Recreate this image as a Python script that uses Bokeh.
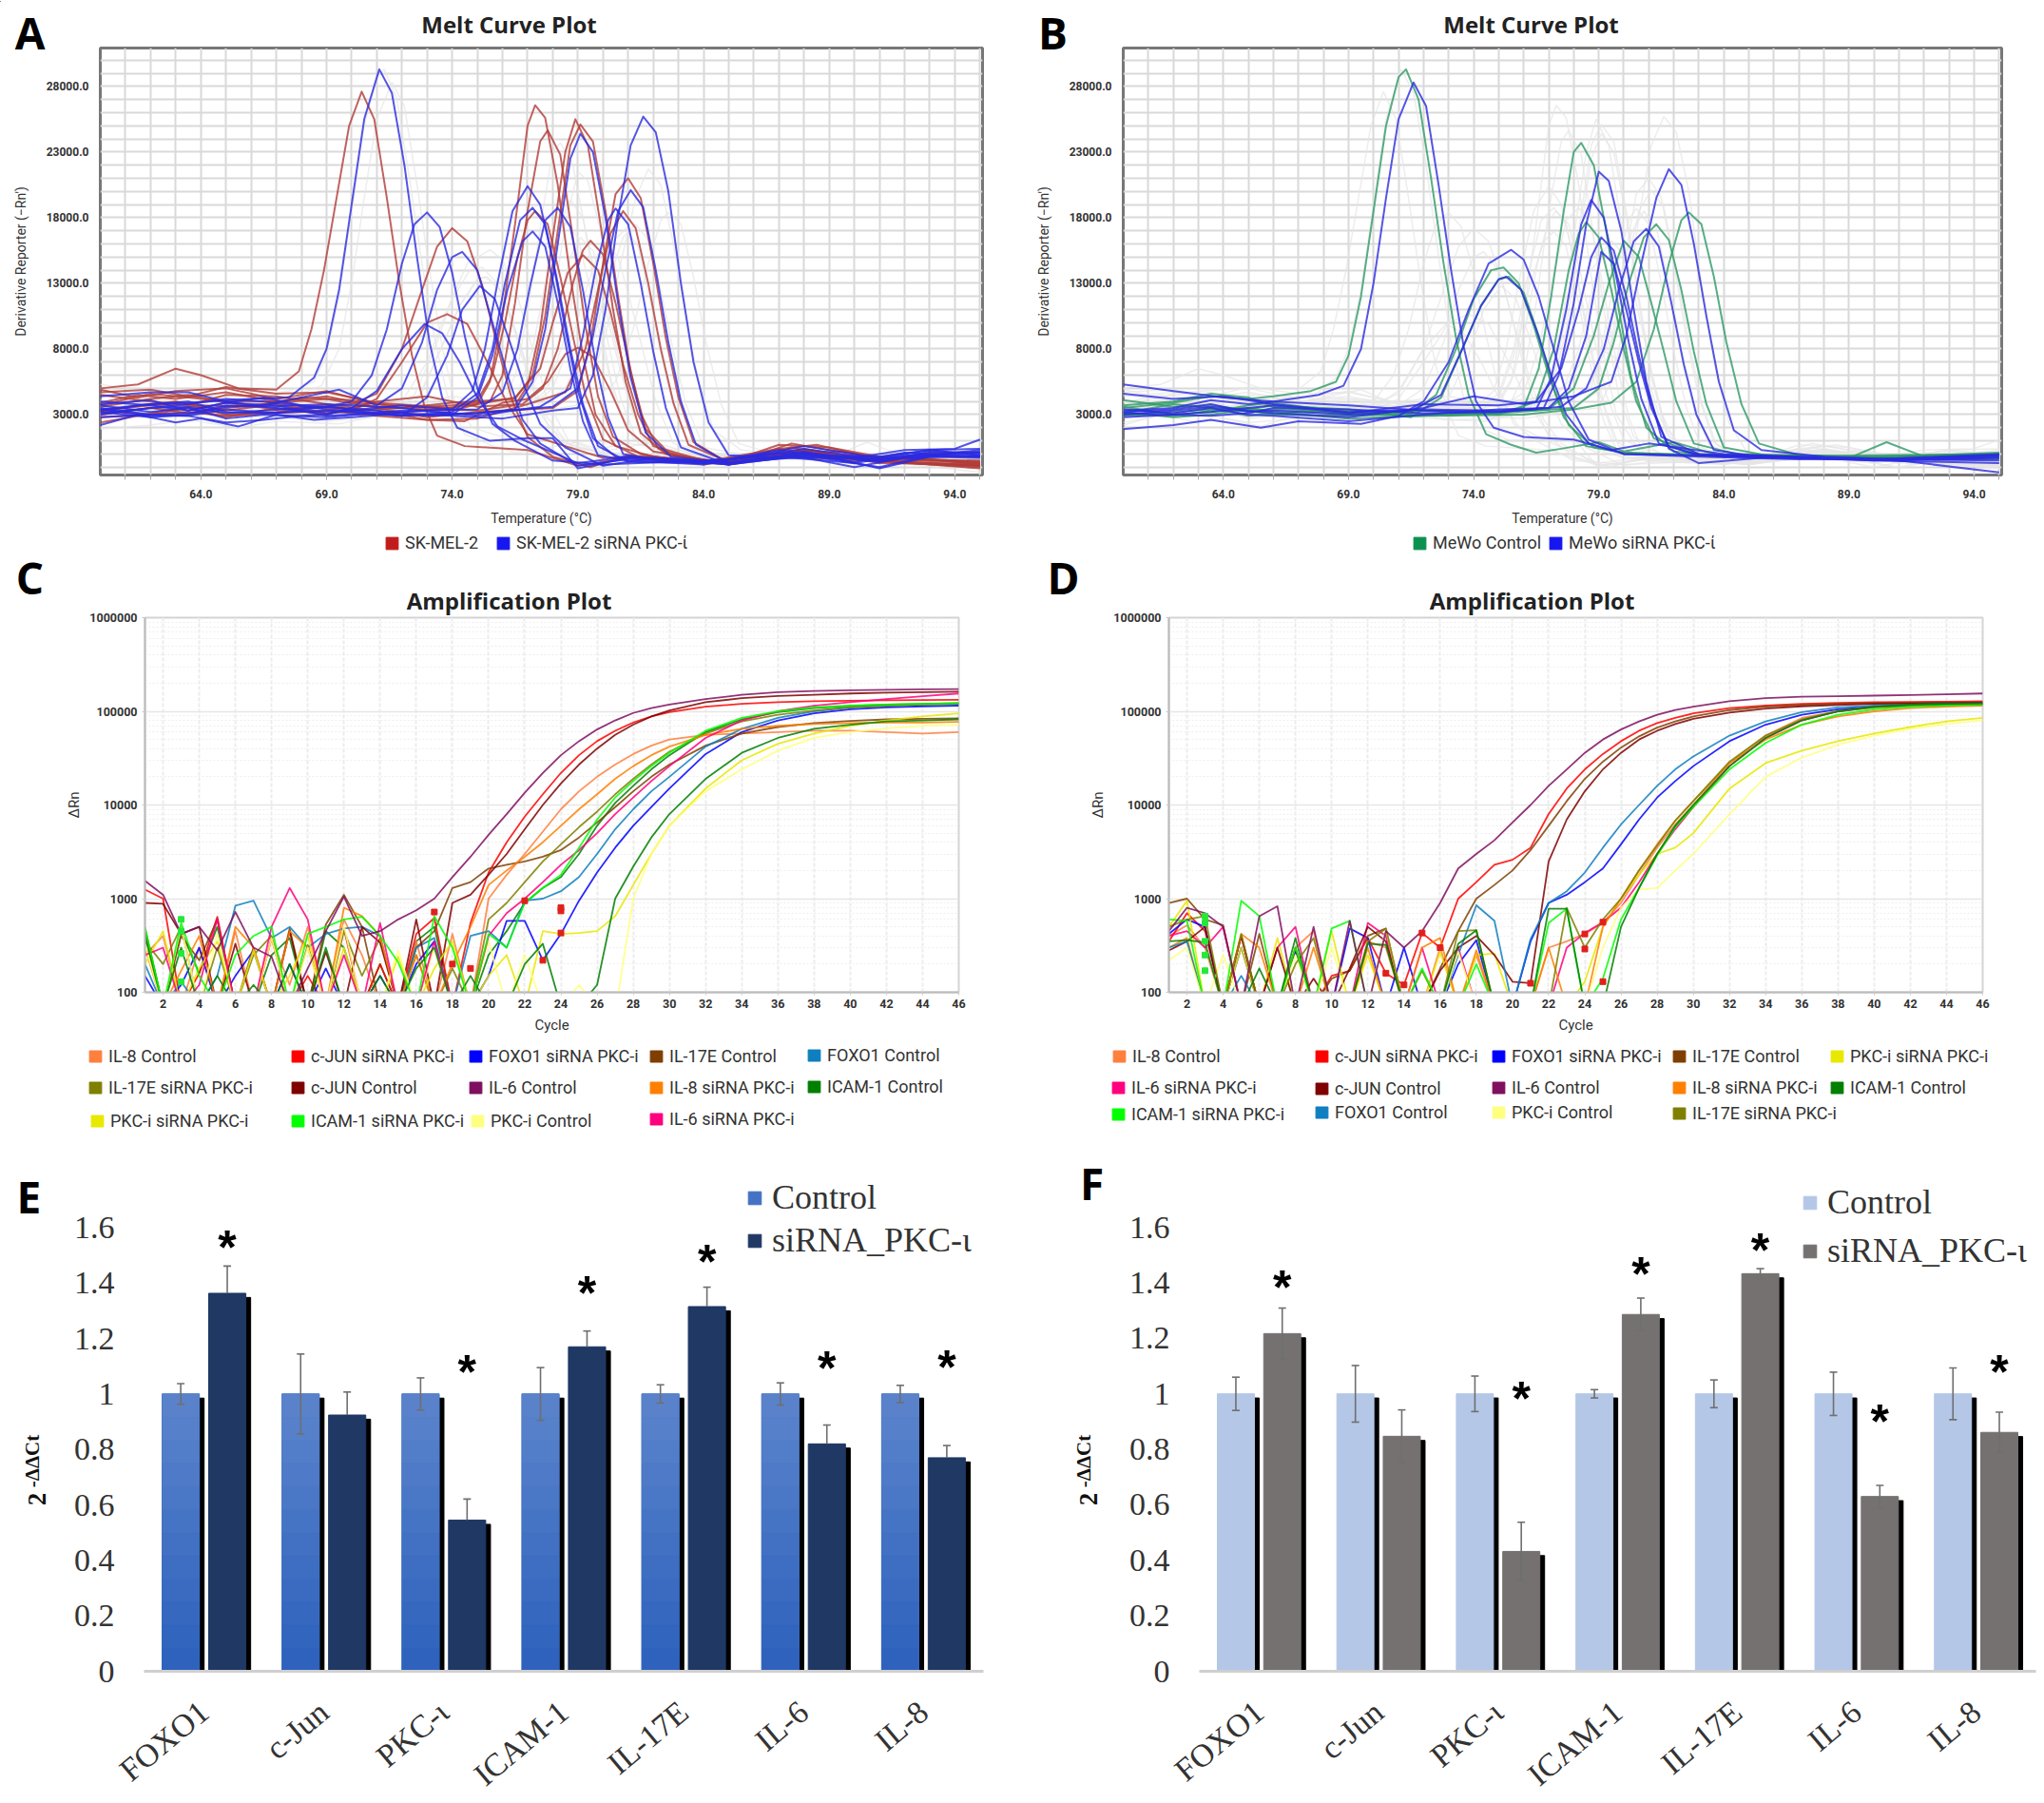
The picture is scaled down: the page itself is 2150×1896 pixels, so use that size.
from math import pi
from bokeh.embed import file_html
from bokeh.resources import INLINE
from bokeh.plotting import figure
from bokeh.layouts import column, row
from bokeh.core.properties import value
from bokeh.models import (ColumnDataSource, FixedTicker, Label, Legend, LegendItem, NumeralTickFormatter,
                          Range1d, TeeHead, Whisker)

# ---------- Melt curves, panel A: (temperature, derivative reporter) ----------
a_red_1 = [(60,5000),(61.5,5300),(63,6500),(64,6000),(65.5,5000),(67,4900),(67.9,6300),(68.4,9500),(68.9,14000),(69.4,19500),(69.9,25000),(70.4,27600),(70.9,25500),(71.4,19500),(71.9,13000),(72.4,7500),(72.9,3600),(73.4,1400),(74.5,600),(77,300),(79,-900),(81,-300),(84,-700),(86,-500),(87.5,500),(90,-400),(92,-600),(95,-900)]
a_red_2 = [(60,3900),(61.5,4500),(63,4200),(65,4700),(67,4000),(69,4400),(71,3600),(74,3300),(75,3800),(75.5,5500),(76,10500),(76.5,17500),(77,25000),(77.3,26560),(77.7,25600),(78.2,20500),(78.7,13500),(79.2,7500),(79.7,3000),(80.5,600),(82,-200),(85,-800),(87.5,800),(89,300),(91,-300),(95,-600)]
a_red_3 = [(60,3200),(61.5,3700),(63,4000),(65,3300),(67,3800),(69,3100),(71,3400),(74,3700),(75.5,4000),(76,6000),(76.5,11500),(77,18500),(77.5,23800),(77.8,24650),(78.3,22800),(78.8,16500),(79.3,9800),(79.8,4400),(80.4,1300),(81.5,0),(84,-800),(87,0),(89.5,200),(92,-700),(95,-900)]
a_red_4 = [(60,4900),(61.5,4300),(63,4800),(65,5000),(67,4200),(69,4800),(71,3800),(75,3300),(76.5,3700),(77,5200),(77.5,9500),(78,16500),(78.5,23000),(78.9,25500),(79.4,23500),(79.9,17500),(80.4,11000),(80.9,5500),(81.5,1600),(82.5,0),(85,-700),(87,400),(88.5,700),(91,-400),(95,-500)]
a_red_5 = [(60,2400),(61.5,2900),(62.5,3300),(64,3700),(66,3600),(68,4300),(70,4100),(72,3500),(74,3900),(76.5,4200),(77.2,6000),(77.7,10500),(78.2,17000),(78.7,23500),(79.1,25100),(79.6,23800),(80.1,18500),(80.6,12000),(81.1,6200),(81.7,1900),(82.7,-100),(85,-800),(88,400),(91,-500),(93,-800),(95,-1000)]
a_red_6 = [(60,3000),(62,3500),(63.5,3100),(65,3500),(67,3900),(69,4200),(71,3500),(73,2800),(75,3200),(78,3500),(79,4800),(79.5,8500),(80,14500),(80.5,19800),(81,21000),(81.5,19500),(82,14500),(82.5,8800),(83,4300),(83.6,900),(85,-700),(87,-100),(88,300),(91,-500),(95,-900)]
a_red_7 = [(60,4500),(62,4000),(63.5,3700),(65,4500),(67,4400),(69,3800),(71,3300),(73,2600),(75,2700),(77,3800),(78.5,4700),(79.3,8000),(79.8,12500),(80.3,16800),(80.8,18500),(81.3,17200),(81.8,13000),(82.3,8000),(82.8,3900),(83.4,700),(85,-600),(87,700),(89,500),(91,-200),(95,-700)]
a_red_8 = [(60,3700),(62,4600),(63.5,4300),(65,4000),(67,4000),(68.5,3500),(70,3800),(71,4600),(72,8000),(72.8,12500),(73.4,15800),(74,17200),(74.6,16200),(75.2,12800),(75.8,8200),(76.4,4000),(77,1300),(78,-200),(79.5,-1000),(81,-100),(84,-600),(87,-100),(90,-500),(92,-200),(95,-800)]
a_red_9 = [(60,3300),(62,3000),(63.5,3500),(65,2800),(67,3500),(69,3000),(71,4000),(73,4400),(75,3600),(76.8,3800),(77.6,5000),(78.2,8000),(78.8,13000),(79.2,15500),(79.5,16250),(80,15200),(80.5,11500),(81,7200),(81.5,3100),(82.2,400),(84,-700),(87,100),(89,-100),(91,-400),(95,-700)]
a_red_10 = [(60,3300),(62,3700),(63.5,3800),(65,3000),(67,3200),(68.5,3600),(70,3300),(71,4200),(72,7000),(73,10000),(73.8,10650),(74.6,9900),(75.4,7000),(76.2,3800),(77,1500),(78.5,600),(80,-300),(82,-200),(85,-700),(88,300),(91,-700),(95,-800)]
a_red_11 = [(60,2800),(62,3000),(63.5,3200),(65,2900),(67,3100),(69,3300),(71,2900),(73,2600),(74.5,2500),(76,3900),(77,4200),(77.8,5500),(78.5,7600),(79,8100),(79.6,7400),(80.3,4800),(81,1800),(82,200),(85,-700),(88,100),(91,-500),(95,-1100)]
a_red_12 = [(60,4700),(62,4900),(63.5,4400),(65,5100),(67,4600),(69,4700),(71,3900),(74,3500),(75,4100),(75.6,6000),(76.1,10000),(76.6,15000),(77,17800),(77.3,18500),(77.8,17500),(78.3,13500),(78.8,9000),(79.3,4500),(80,1100),(81.5,-300),(84,-600),(87,400),(89,0),(91,-600),(95,-800)]
a_red_13 = [(60,3600),(62,4200),(63.5,4500),(65,3900),(67,3400),(69,3700),(71,3000),(73,3300),(75,3800),(76.5,4300),(77.5,6500),(78,10000),(78.6,13800),(79.2,15150),(79.8,14000),(80.3,10800),(80.8,6800),(81.4,3000),(82,600),(84,-500),(87,0),(91,-200),(95,-600)]
a_blue_1 = [(60,3400),(62,3800),(63.5,3900),(66,4200),(67.5,4300),(68.5,5800),(69,8000),(69.5,12500),(70,19000),(70.5,25500),(71.1,29300),(71.6,27500),(72.1,22000),(72.6,15000),(73.1,8500),(73.6,4300),(74.2,2000),(75.5,1000),(77,1200),(78,1200),(79,-1100),(81,-300),(84,-700),(87,100),(90,-1000),(92,-300),(95,300)]
a_blue_2 = [(60,3000),(62,3500),(63.5,3600),(65,3100),(66.5,3300),(69,3600),(70,4000),(70.8,6000),(71.4,9500),(72,14500),(72.5,17500),(73,18400),(73.5,17300),(74,13800),(74.5,9000),(75,5000),(75.6,2300),(76.5,1000),(78,-500),(80,-800),(84,-500),(87,-200),(90,-700),(92,-100),(95,-200)]
a_blue_3 = [(60,3200),(62,2800),(63.5,3000),(65,3600),(66.5,3700),(68,4300),(69.5,4900),(71,3700),(72,5000),(72.8,8500),(73.4,12500),(74,15000),(74.4,15400),(75,14000),(75.6,10000),(76.2,6000),(76.8,2600),(77.5,800),(79,-900),(81,-400),(84,-700),(87,300),(90,-600),(92,100),(95,-200)]
a_blue_4 = [(60,4000),(62,3700),(63.5,3300),(65,3900),(66.5,4300),(68,3700),(69.5,3500),(72,2900),(73,4300),(73.8,7500),(74.4,11000),(75.1,12800),(75.7,11800),(76.3,8500),(76.9,5000),(77.5,2300),(78.5,500),(80,-900),(82,-300),(85,-600),(88,0),(91,-600),(93,200),(95,100)]
a_blue_5 = [(60,3500),(62,3000),(63.5,2900),(65,2400),(66.5,2600),(68,2900),(69,3000),(70,3500),(71,4800),(72,8000),(72.9,9900),(73.6,9200),(74.3,7000),(75,4300),(75.8,2100),(76.8,1100),(79,-700),(81,-200),(84,-600),(88,200),(91,-1100),(93,-200),(95,-300)]
a_blue_6 = [(60,4400),(62,4700),(63.5,4700),(65,4000),(66.5,3600),(69,3100),(72,3700),(74,3400),(74.8,4800),(75.3,8000),(75.8,13000),(76.4,18500),(77,20400),(77.5,19000),(78,14800),(78.5,9500),(79,4800),(79.6,1200),(80.5,-200),(82,-300),(85,-800),(88,-100),(91,-200),(93,300),(95,400)]
a_blue_7 = [(60,3100),(62,3500),(63.5,3800),(65,4200),(66.5,4000),(69,3400),(72,2900),(74,3200),(75,4600),(75.6,8000),(76.1,13000),(76.7,17800),(77.2,18750),(77.7,17500),(78.2,13000),(78.7,8000),(79.2,3800),(79.8,600),(81,-600),(84,-700),(88,400),(91,-400),(93,0),(95,100)]
a_blue_8 = [(60,3700),(62,3200),(63.5,3500),(65,2700),(66.5,3000),(69,2800),(72,3300),(75,3400),(76,4700),(76.6,8000),(77.1,12800),(77.7,17800),(78.2,18750),(78.7,17300),(79.2,12500),(79.7,7000),(80.2,2800),(80.8,0),(82,-400),(85,-800),(88,-100),(91,-1000),(93,-100),(95,-200)]
a_blue_9 = [(60,2800),(62,3000),(63.5,3100),(65,3700),(66.5,3600),(69,3800),(72,3500),(74,3000),(75,4300),(75.6,7500),(76.2,12500),(76.8,16200),(77.2,16950),(77.7,15800),(78.2,11500),(78.7,6500),(79.2,2500),(79.8,-100),(81,-500),(84,-800),(88,600),(91,-300),(93,300),(95,-100)]
a_blue_10 = [(60,3300),(62,3800),(63.5,4000),(65,3200),(66.5,3100),(69,3300),(72,2900),(75,3100),(76.5,3400),(77.2,5500),(77.7,9500),(78.2,16000),(78.7,22500),(79.1,24400),(79.6,23000),(80.1,18000),(80.6,11500),(81.1,5800),(81.7,1600),(82.7,-200),(85,-700),(88,100),(91,-500),(93,100),(95,0)]
a_blue_11 = [(60,2200),(61.5,3000),(63,2400),(64,2700),(65.5,2100),(67,3000),(68.5,2600),(70,2800),(72,3100),(74,2900),(76,2700),(78,3300),(79,3500),(79.6,6000),(80.1,11000),(80.6,18000),(81.1,23500),(81.6,25700),(82.1,24500),(82.6,20000),(83.1,13000),(83.6,7000),(84.2,2400),(85,-100),(87,-300),(90,-300),(92,300),(94,400),(95,1100)]
a_blue_12 = [(60,3400),(62,2900),(63.5,2900),(65,3400),(67,3100),(69,3600),(71,3300),(73,2900),(75,3100),(78,3600),(79,5000),(79.6,9000),(80.1,14000),(80.6,18500),(81.1,20100),(81.6,18800),(82.1,14000),(82.6,8500),(83.1,4000),(83.7,700),(85,-700),(88,-200),(91,-400),(95,-100)]
a_blue_13 = [(60,3800),(62,4100),(63.5,3300),(65,3900),(67,3700),(69,2900),(71,3100),(73,3300),(75,2900),(77.5,3600),(78.7,5000),(79.2,9000),(79.7,14000),(80.2,17800),(80.5,18700),(81,17500),(81.5,13000),(82,7800),(82.5,3500),(83.1,500),(85,-800),(88,100),(91,-500),(95,200)]

# ---------- Melt curves, panel B ----------
b_green_1 = [(60,3500),(62,3900),(63.5,4400),(65,4200),(66,4400),(67.5,4800),(68.5,5500),(69,7500),(69.5,12000),(70,18500),(70.5,25000),(71,28700),(71.3,29300),(71.8,27000),(72.3,21000),(72.8,14500),(73.3,8800),(73.8,4500),(74.5,1500),(75.5,700),(76.5,100),(77.5,400),(79,900),(80,200),(82,900),(84,-200),(87,-100),(89,-300),(90.5,900),(92,-200),(95,-200)]
b_green_2 = [(60,3100),(62,3800),(63.5,3500),(65,2900),(66,3100),(69,3300),(72,3000),(74.5,3100),(76,3500),(76.6,6500),(77.1,12000),(77.6,18500),(78,23000),(78.3,23700),(78.8,22000),(79.3,17000),(79.8,11000),(80.3,5800),(80.9,2000),(82,200),(84,-200),(87,-100),(90,-300),(95,-100)]
b_green_3 = [(60,3600),(62,3000),(63.5,3200),(65,3700),(66,3900),(69,3100),(72,3300),(75,3000),(76.5,4000),(77.2,8000),(77.8,14000),(78.2,16800),(78.5,17650),(79,16500),(79.5,12500),(80,8000),(80.5,4000),(81.2,1200),(83,0),(86,-200),(90,-100),(95,0)]
b_green_4 = [(60,3000),(62,2900),(63.5,3300),(65,3300),(66,3000),(69,2900),(71.5,3100),(72.5,4500),(73.3,8000),(74,11800),(74.7,14000),(75.2,14200),(75.8,13000),(76.4,9800),(77,6000),(77.6,2800),(78.5,600),(80,100),(83,-100),(86,-300),(90,-200),(95,0)]
b_green_5 = [(60,3700),(62,4000),(63.5,4600),(65,4300),(66,3600),(69,3000),(72,2900),(75,3100),(78,3500),(79,5000),(79.6,8500),(80.2,13000),(80.8,16500),(81.3,17500),(81.8,16300),(82.3,12500),(82.8,7800),(83.3,3800),(84,500),(86,-200),(90,-300),(95,-100)]
b_green_6 = [(60,2900),(62,3200),(63.5,3400),(65,3500),(66,3200),(69,2700),(72,2900),(76,3000),(78,3400),(79.5,3900),(80.5,5500),(81.2,9500),(81.8,14500),(82.3,17800),(82.6,18400),(83.1,17500),(83.6,13500),(84.1,8500),(84.7,3800),(85.4,800),(87,-100),(90,-200),(95,0)]
b_green_7 = [(60,4100),(62,3600),(63.5,3700),(65,3300),(66,3400),(69,3100),(72,3300),(75,3200),(77,3400),(78,5000),(78.8,9000),(79.4,13000),(80,16250),(80.6,15000),(81.1,11500),(81.6,7800),(82.1,4000),(82.8,800),(84.5,0),(87,-100),(91,-400),(95,-400)]
b_green_8 = [(60,3200),(62,2800),(63.5,3000),(65,3400),(66,3700),(69,3400),(71.5,2800),(72.7,4300),(73.5,7800),(74.3,11300),(75,13300),(75.4,13500),(76,12300),(76.6,9000),(77.2,5000),(77.8,2200),(78.8,500),(80,100),(83,-100),(87,-300),(91,-200),(95,100)]
b_blue_1 = [(60,3300),(62,3500),(63.5,4100),(65,3800),(66,4000),(67.8,4500),(68.8,5200),(69.5,8000),(70,13000),(70.5,19500),(71,25500),(71.6,28300),(72.1,26500),(72.6,20500),(73.1,14000),(73.6,8200),(74.1,4000),(74.8,2000),(76,1300),(78,1100),(79.5,300),(81,800),(84,0),(87,-200),(91,-400),(95,-500)]
b_blue_2 = [(60,5300),(62,4800),(64,4300),(66,4000),(69,3700),(72,3300),(75,3200),(76.8,3500),(77.4,6000),(78,11500),(78.5,17500),(79,21500),(79.4,20800),(79.9,17000),(80.4,11000),(80.9,5500),(81.5,1300),(83,0),(86,-200),(90,-400),(95,-100)]
b_blue_3 = [(60,4600),(62,4200),(64,4400),(66,3800),(69,3200),(72,3400),(75,3300),(76.5,3400),(77.1,5800),(77.7,11000),(78.3,17500),(78.7,19350),(79.2,18000),(79.7,13500),(80.2,8500),(80.7,4200),(81.4,800),(83,-100),(86,-200),(90,-500),(95,-700)]
b_blue_4 = [(60,1900),(62,2200),(63.5,2600),(65.5,2000),(67,2500),(69.5,2300),(71,2900),(72,4000),(73,7000),(73.8,11000),(74.6,14500),(75.5,15550),(76,14800),(76.6,12000),(77.2,8000),(77.8,4000),(78.6,1100),(80,0),(83,-100),(87,-300),(91,-500),(95,-1400)]
b_blue_5 = [(60,3200),(62,3400),(63.5,3800),(65,3200),(66,3300),(69,3000),(71.5,3300),(72.7,4500),(73.5,7800),(74.3,11300),(75,13300),(75.3,13500),(75.9,12500),(76.5,9500),(77.1,6000),(77.7,3000),(78.6,800),(80,0),(83,-200),(87,-400),(91,-400),(95,-300)]
b_blue_6 = [(60,2800),(62,3000),(63.5,3200),(65,3500),(66,3700),(69,3100),(72,3800),(75,3700),(76.5,4000),(77.5,6500),(78.2,11000),(78.7,15000),(79.1,16500),(79.6,15500),(80.1,12000),(80.6,7500),(81.1,3800),(81.8,400),(83,-700),(86,-200),(90,-500),(95,-100)]
b_blue_7 = [(60,3000),(62,3300),(63.5,3600),(65,3300),(66,3100),(69,2800),(72,3500),(74,4400),(76,3800),(78,4400),(79.5,5500),(80.1,9000),(80.7,14500),(81.3,19500),(81.8,21700),(82.3,20500),(82.8,16000),(83.3,10500),(83.8,5500),(84.4,1800),(85.5,300),(88,-200),(91,-400),(95,-200)]
b_blue_8 = [(60,3100),(62,3000),(63.5,2900),(65,3100),(66,3500),(69,3400),(72,3100),(75,3200),(77.5,3600),(78.5,5000),(79.2,8000),(79.8,12500),(80.4,16200),(80.9,17150),(81.4,15800),(81.9,11500),(82.4,6800),(82.9,3000),(83.6,300),(85,-100),(88,-300),(91,-500),(95,-300)]
b_blue_9 = [(60,3400),(62,3100),(63.5,3500),(65,3000),(66,2900),(69,2500),(72,3000),(75,3400),(77,3500),(77.8,5000),(78.5,9000),(79.1,15400),(79.6,14500),(80.1,11000),(80.6,7000),(81.1,3500),(81.8,600),(83,-100),(86,-300),(90,-400),(95,0)]

# ---------- Amplification curves: delta Rn at cycles 1-30 and then every second cycle ----------
amp_cycles = [1,2,3,4,5,6,7,8,9,10,11,12,13,14,15,16,17,18,19,20,21,22,23,24,25,26,27,28,29,30,32,34,36,38,40,42,44,46]

c_il8_ctrl = [250,400,70,300,70,450,70,380,120,500, 70,600,250,70,70,350,70,420,70,1000, 1800,3000,5200,9000,14000,20000,27000,35000,43000,50000, 56000,58000,60000,62000,62000,60000,58000,60000]
c_cjun_si = [1250,1000,70,160,640,70,70,380,70,150, 70,480,70,200,70,420,620,70,550,1900, 4000,7500,13000,22000,34000,48000,62000,76000,88000,98000, 112000,120000,125000,128000,130000,131000,132000,133000]
c_foxo1_si = [150,70,120,300,70,150,280,70,200,70, 180,70,70,150,70,200,350,70,70,150, 580,580,220,420,950,1900,3500,6000,9500,15000, 35000,60000,80000,95000,105000,110000,113000,115000]
c_il17e_ctrl = [480,70,400,220,600,70,300,70,480,70, 530,1100,500,70,70,300,450,1300,1500,2100, 2300,2500,2800,3300,4500,6500,9500,14000,20000,27000, 43000,58000,68000,75000,79000,82000,83000,84000]
c_foxo1_ctrl = [200,70,130,70,150,840,950,380,500,300, 420,480,500,400,70,300,380,70,400,450, 300,950,1000,1200,1700,3000,5500,9000,14000,20000, 42000,65000,85000,100000,110000,115000,118000,120000]
c_il17e_si = [350,200,500,70,300,70,250,400,70,320, 70,450,150,380,70,250,70,180,70,600, 900,1500,2500,3800,5800,8500,13000,19000,27000,37000, 58000,78000,92000,102000,110000,115000,118000,120000]
c_cjun_ctrl = [900,880,420,500,70,330,70,70,450,70, 270,70,500,340,70,600,70,900,1100,1800, 3000,5500,10000,17000,27000,40000,56000,72000,88000,102000, 125000,138000,146000,150000,155000,158000,160000,162000]
c_il6_ctrl = [1550,1100,420,500,280,720,300,240,70,180, 450,1050,400,450,600,750,1000,1700,2800,4800, 8000,13500,22000,34000,48000,64000,80000,96000,108000,118000, 135000,150000,160000,165000,168000,170000,172000,173000]
c_il8_si = [300,70,170,400,70,500,300,70,450,300, 70,800,650,400,70,250,70,200,500,1400, 2000,2800,4000,6000,9000,13000,19000,26000,34000,42000, 56000,65000,70000,73000,75000,76000,76000,77000]
c_icam_ctrl = [400,70,300,70,150,70,120,70,200,70, 300,70,70,150,70,180,300,70,150,70, 70,200,330,70,70,120,1000,2200,4500,8000, 19000,36000,52000,65000,72000,78000,80000,82000]
c_icam_ctrl_b = [470,70,450,160,500,70,70,250,380,70, 450,300,70,200,70,350,500,70,70,250, 450,900,1300,1700,3000,6000,10500,16000,24000,34000, 60000,82000,98000,108000,114000,118000,120000,122000]
c_pkc_si = [200,450,70,180,350,70,280,70,150,400, 70,300,70,70,240,70,180,350,70,150, 250,70,450,420,430,450,650,1400,3000,6000, 15000,30000,45000,58000,70000,80000,88000,95000]
c_icam_si = [500,70,550,150,70,250,400,500,70,420, 500,600,640,400,210,70,650,300,70,420, 300,900,1300,1800,3500,7000,12000,18000,26000,36000, 62000,85000,100000,110000,115000,118000,120000,122000]
c_pkc_ctrl = [320,70,500,70,420,70,70,380,70,300, 70,520,70,70,280,70,300,70,70,350, 70,250,70,70,120,70,60,1000,3000,6000, 14000,24000,38000,52000,60000,66000,70000,72000]
c_il6_si = [250,300,70,120,600,70,70,500,1300,600, 70,250,70,550,70,70,350,70,70,400, 700,1000,1500,2300,3300,5000,8000,12000,18000,26000, 52000,80000,100000,115000,125000,135000,145000,155000]

d_il8_ctrl = [400,520,300,70,400,70,70,300,450,70, 70,350,300,70,70,300,70,250,70,70, 70,300,350,420,550,900,1800,3500,6200,10000, 28000,55000,85000,100000,110000,115000,118000,120000]
d_cjun_si = [350,700,450,70,400,70,70,280,70,150, 170,380,160,120,430,300,1000,1500,2300,2600, 3500,8000,15000,24000,35000,48000,62000,75000,85000,95000, 108000,115000,120000,123000,125000,126000,127000,128000]
d_foxo1_si = [420,600,500,70,300,70,70,280,70,70, 480,380,70,300,70,70,200,360,70,70, 350,900,1100,1500,2100,3800,7000,12000,18000,26000, 48000,72000,92000,105000,112000,115000,117000,118000]
d_il17e_ctrl = [900,1000,600,520,70,420,70,300,70,140, 170,400,480,70,70,180,450,1000,1400,2000, 3300,6000,11000,19000,29000,41000,54000,67000,78000,88000, 103000,112000,117000,120000,122000,123000,124000,125000]
d_pkc_si = [500,950,70,70,300,70,380,70,70,450, 70,250,70,70,70,270,70,250,260,70, 70,70,70,130,500,1000,1800,3000,3500,5000, 15000,28000,38000,48000,58000,68000,78000,85000]
d_il6_si = [400,450,300,500,70,70,300,500,70,70, 70,550,400,70,300,70,300,70,70,70, 70,70,300,430,560,800,1500,3000,5500,9500, 26000,52000,80000,100000,112000,118000,122000,125000]
d_cjun_ctrl = [280,350,500,70,400,70,300,70,140,70, 180,500,350,70,70,170,300,400,250,130, 125,2500,7000,14000,24000,36000,50000,62000,73000,83000, 97000,107000,113000,117000,120000,121000,122000,123000]
d_il6_ctrl = [450,800,700,500,70,650,830,70,500,70, 580,70,450,300,450,900,2100,3000,4200,6500, 10000,16000,24000,36000,50000,64000,78000,92000,103000,112000, 128000,138000,143000,145000,147000,149000,152000,155000]
d_il8_si = [300,380,70,70,420,300,70,70,300,70, 70,300,70,70,300,380,70,280,70,70, 70,300,70,70,500,1000,2000,3800,6800,11000, 28000,50000,72000,88000,100000,108000,112000,115000]
d_icam_ctrl = [350,360,340,70,70,180,70,380,70,70, 70,330,320,70,70,70,330,460,70,70, 70,780,780,70,70,500,1300,3000,6000,10000, 26000,52000,80000,100000,112000,118000,120000,122000]
d_icam_si = [600,580,70,70,950,650,70,300,70,480, 580,70,70,70,180,70,70,200,70,70, 70,550,780,70,140,600,1300,2900,5800,9500, 24000,46000,72000,92000,105000,112000,116000,118000]
d_foxo1_ctrl = [300,350,70,70,150,70,70,70,70,70, 70,70,70,70,70,70,250,850,580,70, 370,900,1200,1900,3500,6200,10000,16000,24000,33000, 55000,78000,98000,110000,115000,118000,120000,121000]
d_pkc_ctrl = [220,300,70,250,70,70,70,250,70,300, 70,70,470,70,70,70,270,70,70,70, 70,70,70,70,300,800,1250,1300,2000,3000, 8000,20000,32000,44000,55000,65000,73000,80000]
d_il17e_si = [500,600,650,70,420,70,70,200,380,70, 70,350,480,70,170,70,450,460,70,70, 70,70,800,300,600,1000,2000,3700,6800,11000, 29000,55000,82000,100000,110000,115000,117000,119000]

c_threshold_cycle = [17,18,19,22,23,24,24,24]
c_threshold_value = [720,200,180,950,220,800,430,740]
c_baseline_cycle = [3,3,3,3]
c_baseline_value = [600,450,260,130]
d_threshold_cycle = [13,14,15,16,21,24,24,25,25]
d_threshold_value = [160,120,430,300,125,420,290,560,130]
d_baseline_cycle = [3,3,3,3,3]
d_baseline_value = [650,550,350,250,170]

# ---------- Bar charts ----------
genes = ["FOXO1", "c-Jun", "PKC-ι", "ICAM-1", "IL-17E", "IL-6", "IL-8"]
e_control = [1, 1, 1, 1, 1, 1, 1]
e_sirna = [1.363, 0.924, 0.545, 1.17, 1.315, 0.82, 0.77]
e_control_err = [0.037, 0.144, 0.058, 0.095, 0.033, 0.04, 0.031]
e_sirna_err = [0.098, 0.083, 0.076, 0.057, 0.07, 0.068, 0.044]
e_star_gene = [0, 2, 3, 4, 5, 6]
e_star_y = [1.542, 1.092, 1.377, 1.49, 1.107, 1.11]
f_control = [1, 1, 1, 1, 1, 1, 1]
f_sirna = [1.217, 0.847, 0.432, 1.286, 1.433, 0.63, 0.861]
f_control_err = [0.06, 0.102, 0.064, 0.015, 0.05, 0.078, 0.093]
f_sirna_err = [0.092, 0.095, 0.105, 0.059, 0.018, 0.04, 0.073]
f_star_gene = [0, 2, 3, 4, 5, 6]
f_star_y = [1.397, 0.997, 1.444, 1.529, 0.912, 1.091]
bar_ticks = [0, 0.2, 0.4, 0.6, 0.8, 1, 1.2, 1.4, 1.6]
bar_tick_labels = ["0", "0.2", "0.4", "0.6", "0.8", "1", "1.2", "1.4", "1.6"]

# ---------- Shared styling ----------
RED, BLUE, GREEN = "#b23c38", "#2a2ae0", "#2e9a66"
UI = "Roboto"
SERIF = "Liberation Serif"
PAGE_W, PAGE_H = 2150, 1896
BAR_SPILL = 34

# A transparent figure laid over the whole page carries the texts and keys that lie outside the plot frames.
sheet = figure(width=PAGE_W, height=PAGE_H, output_backend="svg", toolbar_location=None,
               x_range=Range1d(0, PAGE_W), y_range=Range1d(PAGE_H, 0), x_axis_location=None, y_axis_location=None,
               min_border=0, outline_line_color=None, background_fill_alpha=0, border_fill_alpha=0,
               margin=(-PAGE_H, 0, 0, 0))
sheet.grid.visible = False


def put_text(x, y, text, size, font=UI, style="normal", color="#111111", angle=0, align="center"):
    sheet.add_layout(Label(x=x, y=y, text=text, text_font=font, text_font_size=f"{size}px", text_font_style=style,
                           text_color=color, text_align=align, text_baseline="middle", angle=angle))


def put_key(x, y, text, color, size, gw, gh, lh, font=UI, standoff=6):
    r = sheet.vbar(x=[-1000], top=[1], bottom=[1], width=1, fill_color=color, line_color=color)
    sheet.add_layout(Legend(items=[LegendItem(label=text, renderers=[r])], location=(x, PAGE_H - y - lh / 2),
                            margin=0, padding=0, spacing=0, glyph_width=gw, glyph_height=gh, label_height=lh,
                            label_standoff=standoff, label_text_font=font, label_text_font_size=f"{size}px",
                            label_text_color="#333333", background_fill_alpha=0, border_line_color=None,
                            label_text_baseline="middle"))


def melt_panel(letter, letter_x, left, right, title_x, x_end, ghosts, groups, keys):
    p = figure(width=1075, height=600, output_backend="svg", toolbar_location=None,
               x_range=Range1d(60, x_end), y_range=Range1d(-1600, 30920),
               min_border_left=left, min_border_right=right, min_border_top=50, min_border_bottom=101,
               background_fill_color="white", border_fill_color="white")
    p.outline_line_color = "#777777"
    p.outline_line_width = 3
    p.xaxis.ticker = FixedTicker(ticks=[64, 69, 74, 79, 84, 89, 94], minor_ticks=list(range(61, 96)))
    p.xaxis.formatter = NumeralTickFormatter(format="0.0")
    p.yaxis.ticker = FixedTicker(ticks=[3000, 8000, 13000, 18000, 23000, 28000])
    p.yaxis.formatter = NumeralTickFormatter(format="0.0")
    p.xgrid.ticker = FixedTicker(ticks=list(range(61, 96)))
    p.ygrid.ticker = FixedTicker(ticks=list(range(-1000, 31000, 1000)))
    for g in (p.xgrid, p.ygrid):
        g.grid_line_color = "#d9d9d9"
        g.grid_line_width = 2
    for ax in (p.xaxis, p.yaxis):
        ax.axis_line_color = None
        ax.major_label_text_font = UI
        ax.major_label_text_font_style = "bold"
        ax.major_label_text_font_size = "12px"
        ax.major_label_text_color = "#333333"
        ax.axis_label_text_font = UI
        ax.axis_label_text_font_style = "normal"
        ax.axis_label_text_font_size = "14px"
        ax.axis_label_text_color = "#333333"
    p.xaxis.major_tick_line_color = "#aaaaaa"
    p.xaxis.major_tick_out = 5
    p.xaxis.major_tick_in = 0
    p.xaxis.minor_tick_line_color = "#aaaaaa"
    p.xaxis.minor_tick_out = 5
    p.xaxis.minor_tick_in = 0
    p.xaxis.major_label_standoff = 10
    p.xaxis.axis_label = "Temperature (°C)"
    p.xaxis.axis_label_standoff = 10
    p.yaxis.major_tick_line_color = None
    p.yaxis.minor_tick_line_color = None
    p.yaxis.major_label_standoff = 6
    p.yaxis.axis_label = "Derivative Reporter (−Rn′)"
    p.yaxis.axis_label_standoff = 16
    for curve in ghosts:
        xs, ys = zip(*curve)
        p.line(list(xs), list(ys), line_color="#e6e6e6", line_width=1.5, line_alpha=0.7)
    for color, curves in groups:
        for curve in curves:
            xs, ys = zip(*curve)
            p.line(list(xs), list(ys), line_color=color, line_width=2, line_alpha=0.8, line_join="round")
    for x, text, color in keys:
        put_key(x, 571, text, color, 18, 16, 16, 20)
    put_text(title_x, 25, "Melt Curve Plot", 24, font="Open Sans", style="bold", color="#222222")
    put_text(letter_x, 33, letter, 46, font="Open Sans", style="bold", color="#000000")
    return p


def amp_panel(letter, letter_x, left, right, title_x, series, extra, thr, base, keys):
    p = figure(width=1075, height=610, output_backend="svg", toolbar_location=None, y_axis_type="log",
               x_range=Range1d(1, 46), y_range=Range1d(100, 1000000),
               min_border_left=left, min_border_right=right, min_border_top=49, min_border_bottom=167,
               background_fill_color="white", border_fill_color="white")
    p.outline_line_color = "#d4d4d4"
    p.outline_line_width = 2
    p.xaxis.ticker = FixedTicker(ticks=list(range(2, 47, 2)), minor_ticks=list(range(1, 47)))
    p.yaxis.formatter = NumeralTickFormatter(format="0")
    p.xgrid.ticker = FixedTicker(ticks=list(range(2, 47, 2)))
    p.xgrid.grid_line_color = "#ececec"
    p.xgrid.grid_line_width = 2
    p.xgrid.grid_line_dash = "4 2"
    p.ygrid.grid_line_color = "#e6e6e6"
    p.ygrid.grid_line_width = 1.5
    p.ygrid.minor_grid_line_color = "#eeeeee"
    p.ygrid.minor_grid_line_width = 1
    p.ygrid.minor_grid_line_dash = "2 2"
    for ax in (p.xaxis, p.yaxis):
        ax.axis_line_color = "#bbbbbb"
        ax.axis_line_width = 2
        ax.major_tick_line_color = "#cccccc"
        ax.minor_tick_line_color = None
        ax.major_tick_out = 3
        ax.major_tick_in = 0
        ax.major_label_text_font = UI
        ax.major_label_text_font_style = "bold"
        ax.major_label_text_font_size = "12.5px"
        ax.major_label_text_color = "#333333"
        ax.axis_label_text_font = UI
        ax.axis_label_text_font_style = "normal"
        ax.axis_label_text_font_size = "15px"
        ax.axis_label_text_color = "#333333"
    p.xaxis.major_label_standoff = 3
    p.xaxis.axis_label = "Cycle"
    p.xaxis.axis_label_standoff = 6
    p.yaxis.major_label_standoff = 4
    p.yaxis.axis_label = "ΔRn"
    p.yaxis.axis_label_standoff = 4
    for color, ys in extra + [(c, y) for _, c, y in series]:
        p.line(amp_cycles, ys, line_color=color, line_width=1.8, line_alpha=0.85, line_join="round")
    p.scatter(base[0], base[1], marker="square", size=6, color="#25e83a")
    p.scatter(thr[0], thr[1], marker="square", size=6, color="#e0201c")
    colors = {n: c for n, c, _ in series}
    for name, x, y in keys:
        put_key(x, y + 1, name, colors[name], 18, 16, 15, 20)
    put_text(title_x, 631, "Amplification Plot", 24, font="Open Sans", style="bold", color="#222222")
    put_text(letter_x, 606, letter, 46, font="Open Sans", style="bold", color="#000000")
    return p


def bar_panel(letter, letter_pos, left, right, bottom_b, y_end, control, sirna, c_err, s_err,
              star_gene, star_y, c_color, s_color, key_x, key_ys, label_xs, grad=None, show_s_low=True):
    p = figure(width=1075, height=686 + BAR_SPILL, output_backend="svg", toolbar_location=None,
               x_range=Range1d(-0.5, 6.5), y_range=Range1d(0, y_end), margin=(0, 0, -BAR_SPILL, 0),
               min_border_left=left, min_border_right=right, min_border_top=51, min_border_bottom=bottom_b + BAR_SPILL,
               background_fill_color="white", border_fill_color="white", outline_line_color=None)
    p.grid.visible = False
    xs = list(range(len(genes)))
    xc = [i - 0.194 for i in xs]
    xr = [i + 0.194 for i in xs]
    width = 0.31
    p.vbar(x=[v + 0.04 for v in xc], top=[v - 0.015 for v in control], width=width, color="#000000")
    p.vbar(x=[v + 0.04 for v in xr], top=[v - 0.015 for v in sirna], width=width, color="#000000")
    p.vbar(x=xc, top=control, width=width, color=c_color)
    if grad:
        n = len(grad)
        for k, col in enumerate(grad):
            p.vbar(x=xc, bottom=[v * k / n for v in control], top=[v * (k + 1) / n for v in control], width=width,
                   fill_color=col, line_color=col, line_width=0.5)
    p.vbar(x=xr, top=sirna, width=width, color=s_color)
    head = lambda: TeeHead(size=8, line_color="#6f6f6f", line_width=1.6)
    for x, vals, err, low in ((xc, control, c_err, True), (xr, sirna, s_err, show_s_low)):
        src = ColumnDataSource(dict(x=x, up=[v + e for v, e in zip(vals, err)],
                                    lo=[v - e if low else v for v, e in zip(vals, err)]))
        p.add_layout(Whisker(base="x", upper="up", lower="lo", source=src, level="overlay", line_color="#6f6f6f",
                             line_width=1.6, upper_head=head(), lower_head=head() if low else None))
    p.text(x=[xr[i] for i in star_gene], y=star_y, text=["*"] * len(star_gene), text_align="center",
           text_baseline="middle", text_font=value("Liberation Sans"), text_font_size="50px",
           text_font_style="bold", text_color="#000000", y_offset=4)
    p.xaxis.ticker = FixedTicker(ticks=xs)
    p.xaxis.major_label_overrides = dict(zip(xs, genes))
    p.xaxis.major_label_orientation = 40 * pi / 180
    p.xaxis.major_label_text_font = SERIF
    p.xaxis.major_label_text_font_size = "34px"
    p.xaxis.major_label_text_color = "#333333"
    p.xaxis.major_label_standoff = 32
    p.xaxis.axis_line_color = "#cfcfcf"
    p.xaxis.axis_line_width = 3
    p.xaxis.major_tick_line_color = None
    p.xaxis.minor_tick_line_color = None
    p.yaxis.ticker = FixedTicker(ticks=bar_ticks)
    p.yaxis.major_label_overrides = dict(zip(bar_ticks, bar_tick_labels))
    p.yaxis.major_label_text_font = SERIF
    p.yaxis.major_label_text_font_size = "34px"
    p.yaxis.major_label_text_color = "#333333"
    p.yaxis.major_label_standoff = 25
    p.yaxis.axis_line_color = None
    p.yaxis.major_tick_line_color = None
    p.yaxis.minor_tick_line_color = None
    put_key(key_x, key_ys[0], "Control", c_color, 36, 17, 17, 40, font=SERIF, standoff=10)
    put_key(key_x, key_ys[1], "siRNA_PKC-ι", s_color, 36, 17, 17, 40, font=SERIF, standoff=10)
    put_text(label_xs[0], 1576, "2", 27, font=SERIF, style="bold", angle=pi / 2)
    put_text(label_xs[1], 1536, "-ΔΔCt", 21, font=SERIF, style="bold", angle=pi / 2)
    put_text(letter_pos[0], letter_pos[1], letter, 46, font="Open Sans", style="bold", color="#000000")
    return p


melt_a = [a_red_1, a_red_2, a_red_3, a_red_4, a_red_5, a_red_6, a_red_7, a_red_8, a_red_9, a_red_10, a_red_11, a_red_12, a_red_13]
melt_a2 = [a_blue_1, a_blue_2, a_blue_3, a_blue_4, a_blue_5, a_blue_6, a_blue_7, a_blue_8, a_blue_9, a_blue_10, a_blue_11, a_blue_12, a_blue_13]
melt_b = [b_green_1, b_green_2, b_green_3, b_green_4, b_green_5, b_green_6, b_green_7, b_green_8]
melt_b2 = [b_blue_1, b_blue_2, b_blue_3, b_blue_4, b_blue_5, b_blue_6, b_blue_7, b_blue_8, b_blue_9]

pA = melt_panel("A", 31, 105, 42, 535, 95.1, melt_b + melt_b2, [(RED, melt_a), (BLUE, melt_a2)],
                [(404, "SK-MEL-2", "#c01c1c"), (521, "SK-MEL-2 siRNA PKC-ί", "#1616f0")])
pB = melt_panel("B", 1107, 106, 45, 1610, 95.1, melt_a + melt_a2, [(GREEN, melt_b), (BLUE, melt_b2)],
                [(1485, "MeWo Control", "#0a9150"), (1628, "MeWo siRNA PKC-ί", "#1616f0")])

SC = [("IL-8 Control", "#ff7f3f", c_il8_ctrl), ("c-JUN siRNA PKC-i", "#ff0000", c_cjun_si),
      ("FOXO1 siRNA PKC-i", "#0000ff", c_foxo1_si), ("IL-17E Control", "#7f3f00", c_il17e_ctrl),
      ("FOXO1 Control", "#0f7fbf", c_foxo1_ctrl), ("IL-17E siRNA PKC-i", "#7f7f00", c_il17e_si),
      ("c-JUN Control", "#7f0000", c_cjun_ctrl), ("IL-8 siRNA PKC-i", "#ff7f00", c_il8_si),
      ("PKC-i siRNA PKC-i", "#e8e800", c_pkc_si), ("PKC-i Control", "#ffff7f", c_pkc_ctrl),
      ("IL-6 siRNA PKC-i", "#ff007f", c_il6_si), ("ICAM-1 Control", "#007f00", c_icam_ctrl),
      ("ICAM-1 siRNA PKC-i", "#00ff00", c_icam_si), ("IL-6 Control", "#7f0f5f", c_il6_ctrl)]
SD = [("IL-8 Control", "#ff7f3f", d_il8_ctrl), ("c-JUN siRNA PKC-i", "#ff0000", d_cjun_si),
      ("FOXO1 siRNA PKC-i", "#0000ff", d_foxo1_si), ("IL-17E Control", "#7f3f00", d_il17e_ctrl),
      ("PKC-i siRNA PKC-i", "#e8e800", d_pkc_si), ("IL-6 siRNA PKC-i", "#ff007f", d_il6_si),
      ("c-JUN Control", "#7f0000", d_cjun_ctrl), ("IL-8 siRNA PKC-i", "#ff7f00", d_il8_si),
      ("FOXO1 Control", "#0f7fbf", d_foxo1_ctrl), ("PKC-i Control", "#ffff7f", d_pkc_ctrl),
      ("IL-17E siRNA PKC-i", "#7f7f00", d_il17e_si), ("ICAM-1 siRNA PKC-i", "#00ff00", d_icam_si),
      ("ICAM-1 Control", "#007f00", d_icam_ctrl), ("IL-6 Control", "#7f0f5f", d_il6_ctrl)]

KC = [("IL-8 Control", 92, 1110), ("c-JUN siRNA PKC-i", 305, 1110), ("FOXO1 siRNA PKC-i", 492, 1110),
      ("IL-17E Control", 682, 1110), ("FOXO1 Control", 848, 1109), ("IL-17E siRNA PKC-i", 92, 1143),
      ("c-JUN Control", 305, 1143), ("IL-6 Control", 492, 1143), ("IL-8 siRNA PKC-i", 682, 1143),
      ("ICAM-1 Control", 848, 1142), ("PKC-i siRNA PKC-i", 94, 1178), ("ICAM-1 siRNA PKC-i", 305, 1178),
      ("PKC-i Control", 494, 1178), ("IL-6 siRNA PKC-i", 682, 1176)]
KD = [("IL-8 Control", 1169, 1110), ("c-JUN siRNA PKC-i", 1382, 1110), ("FOXO1 siRNA PKC-i", 1568, 1110),
      ("IL-17E Control", 1758, 1110), ("PKC-i siRNA PKC-i", 1924, 1110), ("IL-6 siRNA PKC-i", 1168, 1143),
      ("c-JUN Control", 1382, 1144), ("IL-6 Control", 1568, 1143), ("IL-8 siRNA PKC-i", 1758, 1143),
      ("ICAM-1 Control", 1924, 1143), ("ICAM-1 siRNA PKC-i", 1168, 1171), ("FOXO1 Control", 1382, 1169),
      ("PKC-i Control", 1568, 1169), ("IL-17E siRNA PKC-i", 1758, 1170)]

pC = amp_panel("C", 31, 152, 67, 535, SC, [("#007f00", c_icam_ctrl_b)],
               (c_threshold_cycle, c_threshold_value), (c_baseline_cycle, c_baseline_value), KC)
pD = amp_panel("D", 1118, 154, 65, 1611, SD, [],
               (d_threshold_cycle, d_threshold_value), (d_baseline_cycle, d_baseline_value), KD)

E_GRAD = ["#2f62bd", "#3265be", "#3668c0", "#3a6bc1", "#3e6ec2", "#4271c3", "#4674c4", "#4a77c6", "#4e7ac7", "#527dc8", "#5680ca", "#5a82cb"]
pE = bar_panel("E", (30, 1257), 151, 41, 135, 1.7007, e_control, e_sirna, e_control_err, e_sirna_err,
               e_star_gene, e_star_y, "#4472c4", "#1f3864", 785, (1260, 1305), (38, 33), grad=E_GRAD, show_s_low=False)
pF = bar_panel("F", (1148, 1243), 186, 9, 139, 1.6998, f_control, f_sirna, f_control_err, f_sirna_err,
               f_star_gene, f_star_y, "#b4c7e7", "#767171", 1895, (1265, 1316), (1144, 1139))

page = column(row(pA, pB, spacing=0), row(pC, pD, spacing=0), row(pE, pF, spacing=0), sheet, spacing=0)
open("out.html", "w").write(file_html(page, INLINE))
